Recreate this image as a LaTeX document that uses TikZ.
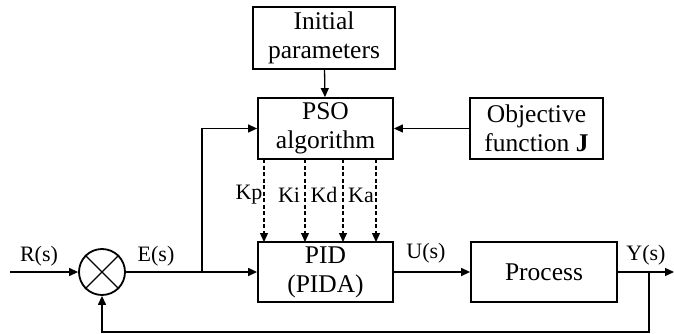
\documentclass[tikz,border=0pt]{standalone}
\usepackage{fontspec}
\setmainfont{Liberation Serif}
\usetikzlibrary{arrows.meta}
\begin{document}
\begin{tikzpicture}[x=1pt,y=-1pt,
  blk/.style={draw,line width=1.8pt,inner sep=0pt,align=center,font=\fontsize{25.5}{29}\selectfont},
  lbl/.style={font=\fontsize{22}{24}\selectfont,inner sep=0pt},
  conn/.style={line width=1.3pt,-{Triangle[length=9pt,width=8pt]}},
  line/.style={line width=1.3pt},
  dconn/.style={line width=1.3pt,dashed,dash pattern=on 4pt off 2.5pt,-{Triangle[length=9pt,width=8pt]}}]
\useasboundingbox (0,0) rectangle (674,334);
\node[blk,minimum width=142pt,minimum height=62pt] (init) at (324,38) {Initial\\parameters};
\node[blk,minimum width=135pt,minimum height=61pt] (pso) at (325.5,128.5) {PSO\\algorithm};
\node[blk,minimum width=133pt,minimum height=61pt] (obj) at (536.5,128.5) {Objective\\function \textbf{J}};
\node[blk,minimum width=135pt,minimum height=60pt] (pid) at (325.5,272) {PID\\(PIDA)};
\node[blk,minimum width=146pt,minimum height=60pt] (proc) at (544,272) {Process};
\node[draw,circle,line width=1.8pt,minimum size=46pt,inner sep=0pt] (sum) at (102,272) {};
\draw[line width=1.3pt] (sum.north west) -- (sum.south east) (sum.north east) -- (sum.south west);
\coordinate (in) at (10,272);
\coordinate (br) at (202,272);
\coordinate (brt) at (202,128.5);
\coordinate (fb) at (649,272);
\coordinate (out) at (674,272);
\coordinate (fbb) at (649,332);
\coordinate (fbl) at (102,332);
\draw[conn] (init) -- (pso);
\draw[conn] (obj) -- (pso);
\draw[conn] (in) -- (sum);
\draw[line] (sum) -- (br);
\draw[conn] (br) -- (pid);
\draw[conn] (br) -- (brt) -- (pso);
\draw[conn] (pid) -- (proc);
\draw[conn] (proc) -- (out);
\draw[conn] (fb) -- (fbb) -- (fbl) -- (sum);
\foreach \x in {264,305,343,376}
  \draw[dconn] (\x,159) -- (\x,242);
\node[lbl] (r) at (39,256) {R(s)};
\node[lbl] (e) at (156,256) {E(s)};
\node[lbl] (u) at (426,253) {U(s)};
\node[lbl] (y) at (646,255) {Y(s)};
\node[lbl] (kp) at (249,195) {Kp};
\node[lbl] (ki) at (289,195) {Ki};
\node[lbl] (kd) at (324,195) {Kd};
\node[lbl] (ka) at (361,195) {Ka};
\end{tikzpicture}
\end{document}
